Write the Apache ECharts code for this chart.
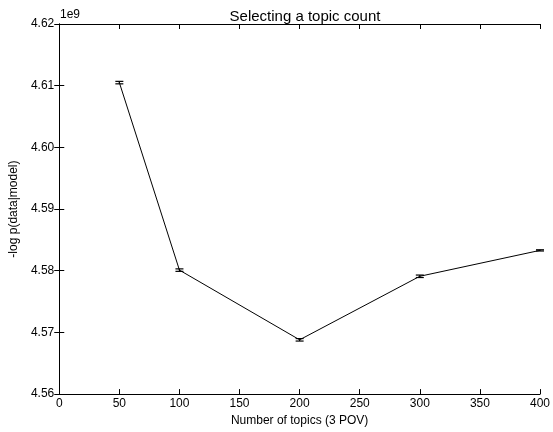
<!DOCTYPE html>
<html><head><meta charset="utf-8">
<script src="https://cdn.jsdelivr.net/npm/echarts@6/dist/echarts.min.js"></script>
<style>html,body{margin:0;padding:0;background:#fff}#c{width:553px;height:432px}</style>
</head><body><div id="c"></div>
<script>
const topics = [50, 100, 200, 300, 400];
const negLogLik = [4.6105, 4.5801, 4.5688, 4.5791, 4.5833]; // x 1e9
const errLow = [4.6103, 4.5799, 4.5686, 4.5789, 4.5832];
const errHigh = [4.6107, 4.5803, 4.5690, 4.5793, 4.5834];
const xTicks = [0, 50, 100, 150, 200, 250, 300, 350, 400];
const yTicks = [4.56, 4.57, 4.58, 4.59, 4.60, 4.61, 4.62];

const font = 'Liberation Sans, Arial, Helvetica, sans-serif';
const chart = echarts.init(document.getElementById('c'));
const axisBase = {
  type: 'value',
  axisLine: {show: true, lineStyle: {color: '#000', width: 1}},
  axisTick: {show: true, inside: true, length: 5, lineStyle: {color: '#000'}},
  splitLine: {show: false}
};
chart.setOption({
  animation: false,
  backgroundColor: '#fff',
  title: {text: 'Selecting a topic count', left: 300, top: 4, textAlign: 'center',
    textStyle: {fontFamily: font, fontSize: 15, fontWeight: 'normal', color: '#000'}},
  grid: {left: 59, right: 12, top: 24, bottom: 35},
  graphic: [{type: 'text', left: 60, top: 9, style: {text: '1e9', font: '12px ' + font, fill: '#000'}}],
  xAxis: [
    Object.assign({}, axisBase, {min: 0, max: 400, interval: 50, position: 'bottom',
      name: 'Number of topics (3 POV)', nameLocation: 'middle', nameGap: 20,
      nameTextStyle: {fontFamily: font, fontSize: 12, color: '#000'},
      axisLabel: {fontFamily: font, fontSize: 12, color: '#000', margin: 4,
        formatter: v => xTicks.includes(v) ? String(v) : ''}}),
    Object.assign({}, axisBase, {min: 0, max: 400, interval: 50, position: 'top', axisLabel: {show: false}})
  ],
  yAxis: [
    Object.assign({}, axisBase, {min: 4.56, max: 4.62, interval: 0.01, position: 'left',
      name: '-log p(data|model)', nameLocation: 'middle', nameGap: 33, nameRotate: 90,
      nameTextStyle: {fontFamily: font, fontSize: 12, color: '#000'},
      axisLabel: {fontFamily: font, fontSize: 12, color: '#000', margin: 5,
        formatter: v => { const t = yTicks.find(k => Math.abs(k - v) < 1e-9); return t === undefined ? '' : t.toFixed(2); }}}),
    Object.assign({}, axisBase, {min: 4.56, max: 4.62, interval: 0.01, position: 'right', axisLabel: {show: false}})
  ],
  series: [
    {type: 'line', data: topics.map((x, i) => [x, negLogLik[i]]), showSymbol: false, symbol: 'none',
      lineStyle: {color: '#000', width: 1}, z: 3},
    {type: 'custom', data: topics.map((x, i) => [x, errLow[i], errHigh[i]]), z: 4,
      renderItem: (params, api) => {
        const lo = api.coord([api.value(0), api.value(1)]);
        const hi = api.coord([api.value(0), api.value(2)]);
        const w = 4;
        const st = {stroke: '#000', lineWidth: 1.2};
        return {type: 'group', children: [
          {type: 'line', shape: {x1: lo[0], y1: lo[1], x2: hi[0], y2: hi[1]}, style: st},
          {type: 'line', shape: {x1: lo[0] - w, y1: lo[1], x2: lo[0] + w, y2: lo[1]}, style: st},
          {type: 'line', shape: {x1: hi[0] - w, y1: hi[1], x2: hi[0] + w, y2: hi[1]}, style: st}
        ]};
      }}
  ]
});
</script></body></html>
